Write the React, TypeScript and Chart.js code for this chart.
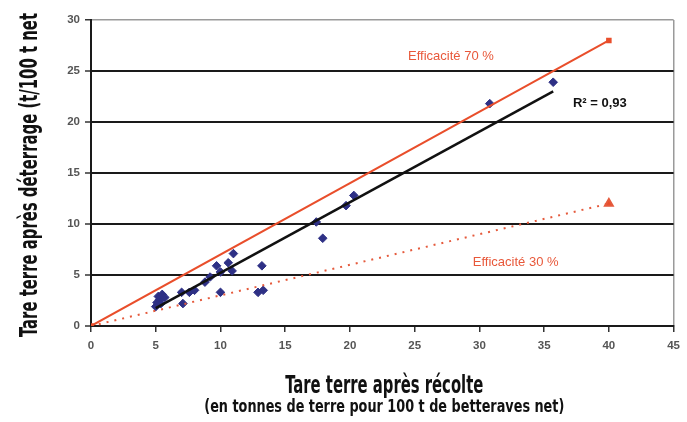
import React, { useEffect, useRef } from "react";
import { Chart, registerables } from "chart.js";

Chart.register(...registerables);

// Tare terre après récolte (x) / après déterrage (y)
const harvestTare = [5.0, 5.1, 5.3, 5.2, 5.5, 5.7, 5.4, 7.0, 7.1, 7.6, 8.0, 8.8, 9.2, 9.7, 10.0, 10.0, 10.6, 10.9, 11.0, 12.9, 13.3, 13.2, 17.4, 17.9, 19.7, 20.3, 30.8, 35.7];
const cleanedTare = [1.9, 2.3, 2.6, 2.9, 3.1, 2.8, 2.2, 3.3, 2.2, 3.3, 3.5, 4.3, 4.8, 5.9, 5.3, 3.3, 6.2, 5.4, 7.1, 3.3, 3.5, 5.9, 10.2, 8.6, 11.8, 12.8, 21.8, 23.9];

const eff70X = [0, 40];
const eff70Y = [0, 28];
const eff30X = [0, 40];
const eff30Y = [0, 12];
const fitX = [5, 35.7];
const fitY = [1.75, 23.0];

const xTicks = [0, 5, 10, 15, 20, 25, 30, 35, 40, 45];
const yTicks = [0, 5, 10, 15, 20, 25, 30];

const label70 = { text: "Efficacité 70 %", x: 27.8, y: 26.4 };
const label30 = { text: "Efficacité 30 %", x: 32.8, y: 6.25 };
const labelR2 = { text: "R² = 0,93", x: 39.3, y: 21.8 };

const yTitle = "Tare terre après déterrage (t/100 t net";
const xTitle1 = "Tare terre après récolte";
const xTitle2 = "(en tonnes de terre pour 100 t de betteraves net)";

const TITLE_FONT = '"Liberation Sans Narrow", "DejaVu Sans Condensed", "DejaVu Sans", sans-serif';

function fitText(ctx: CanvasRenderingContext2D, text: string, cx: number, baseline: number, width: number) {
  const w = ctx.measureText(text).width;
  const s = width / w;
  ctx.save();
  ctx.translate(cx, baseline);
  ctx.scale(s, 1);
  ctx.textAlign = "center";
  ctx.textBaseline = "alphabetic";
  ctx.fillText(text, 0, 0);
  ctx.restore();
}

const annotPlugin = {
  id: "annot",
  afterDatasetsDraw(chart: any) {
    const ctx: CanvasRenderingContext2D = chart.ctx;
    const xs = chart.scales.x;
    const ys = chart.scales.y;
    ctx.save();
    ctx.textAlign = "center";
    ctx.textBaseline = "middle";
    ctx.fillStyle = "#e8583a";
    ctx.font = '13px "Liberation Sans", Arial, sans-serif';
    ctx.fillText(label70.text, xs.getPixelForValue(label70.x), ys.getPixelForValue(label70.y));
    ctx.fillText(label30.text, xs.getPixelForValue(label30.x), ys.getPixelForValue(label30.y));
    ctx.fillStyle = "#111";
    ctx.font = 'bold 13px "Liberation Sans", Arial, sans-serif';
    ctx.fillText(labelR2.text, xs.getPixelForValue(labelR2.x), ys.getPixelForValue(labelR2.y));
    ctx.restore();
  },
  afterDraw(chart: any) {
    const ctx: CanvasRenderingContext2D = chart.ctx;
    const area = chart.chartArea;
    const cx = (area.left + area.right) / 2;
    ctx.save();
    ctx.fillStyle = "#111";
    ctx.font = `bold 25px ${TITLE_FONT}`;
    fitText(ctx, xTitle1, cx + 2, 393, 198);
    ctx.font = `bold 18px ${TITLE_FONT}`;
    fitText(ctx, xTitle2, cx + 2, 412, 360);
    ctx.save();
    ctx.translate(37, (area.top + area.bottom) / 2 + 2);
    ctx.rotate(-Math.PI / 2);
    ctx.font = `bold 25px ${TITLE_FONT}`;
    fitText(ctx, yTitle, 0, 0, 324);
    ctx.restore();
    ctx.restore();
  },
};

export default function App() {
  const ref = useRef<HTMLCanvasElement | null>(null);

  useEffect(() => {
    if (!ref.current) return;
    const pts = harvestTare.map((x, i) => ({ x, y: cleanedTare[i] }));
    const toPts = (xs: number[], ys: number[]) => xs.map((x, i) => ({ x, y: ys[i] }));
    const chart = new Chart(ref.current, {
      type: "scatter",
      data: {
        datasets: [
          {
            label: "Efficacité 70 %",
            data: toPts(eff70X, eff70Y),
            showLine: true,
            borderColor: "#e94e2b",
            backgroundColor: "#e94e2b",
            borderWidth: 2,
            pointRadius: 2.5,
            pointStyle: "rect",
          },
          {
            label: "Efficacité 30 %",
            data: toPts(eff30X, eff30Y),
            showLine: true,
            borderColor: "#e55a3c",
            backgroundColor: "#e94e2b",
            borderWidth: 2,
            borderDash: [2, 6],
            pointRadius: [0, 4.5],
            pointStyle: "triangle",
          },
          {
            label: "Régression",
            data: toPts(fitX, fitY),
            showLine: true,
            borderColor: "#111111",
            borderWidth: 2.5,
            pointRadius: 0,
          },
          {
            label: "Mesures",
            data: pts,
            showLine: false,
            pointStyle: "rectRot",
            pointRadius: 4.3,
            backgroundColor: "#2e3085",
            borderColor: "#2e3085",
            borderWidth: 1,
          },
        ],
      },
      options: {
        animation: false,
        responsive: true,
        maintainAspectRatio: false,
        layout: { padding: { left: 0, right: 8, top: 20, bottom: 0 } },
        plugins: {
          legend: { display: false },
          tooltip: { enabled: false },
        },
        scales: {
          x: {
            type: "linear",
            min: xTicks[0],
            max: xTicks[xTicks.length - 1],
            afterBuildTicks: (s: any) => {
              s.ticks = xTicks.map((v) => ({ value: v }));
            },
            afterFit: (s: any) => {
              s.height = 96;
            },
            ticks: {
              color: "#555",
              padding: 7,
              font: { family: '"Liberation Sans", Arial, sans-serif', size: 11.5, weight: "bold" },
            },
            grid: {
              drawOnChartArea: true,
              color: (c: any) => (c.tick && c.tick.value === 45 ? "#9a9a9a" : "rgba(0,0,0,0)"),
              lineWidth: 1.5,
              tickColor: "#333",
              tickLength: 6,
              tickWidth: 1.5,
            },
            border: { display: true, color: "#1a1a1a", width: 2 },
          },
          y: {
            type: "linear",
            min: yTicks[0],
            max: yTicks[yTicks.length - 1],
            afterBuildTicks: (s: any) => {
              s.ticks = yTicks.map((v) => ({ value: v }));
            },
            afterFit: (s: any) => {
              s.width = 91;
            },
            ticks: {
              color: "#555",
              padding: 5,
              font: { family: '"Liberation Sans", Arial, sans-serif', size: 11.5, weight: "bold" },
            },
            grid: {
              color: (c: any) => (c.tick && c.tick.value === 30 ? "#9a9a9a" : "#1a1a1a"),
              lineWidth: (c: any) => (c.tick && c.tick.value === 30 ? 1.5 : 2),
              tickColor: "#333",
              tickLength: 6,
              tickWidth: 1.5,
            },
            border: { display: true, color: "#1a1a1a", width: 2 },
          },
        },
      },
      plugins: [annotPlugin],
    });
    return () => chart.destroy();
  }, []);

  return (
    <div style={{ position: "absolute", left: 0, top: 0, width: 687, height: 422, background: "#fff" }}>
      <canvas ref={ref} />
    </div>
  );
}
